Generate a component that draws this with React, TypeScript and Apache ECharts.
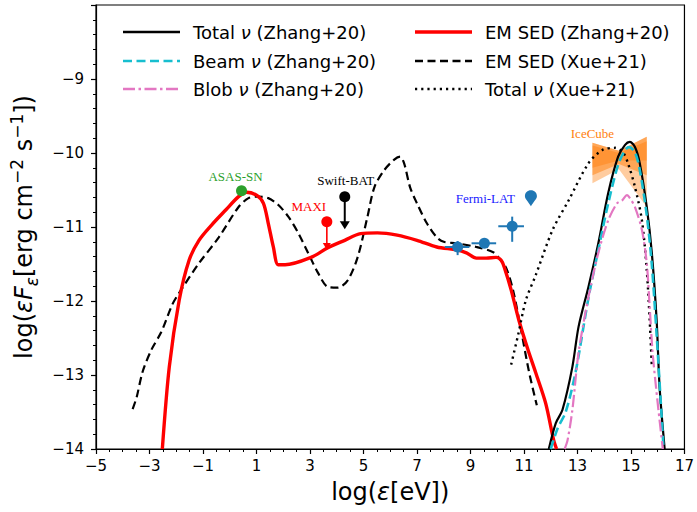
import { useEffect, useRef } from "react";
import * as echarts from "echarts";

// ---- data (log eps [eV], log eps F_eps [erg cm^-2 s^-1]) ----
const emSedZhang: number[][] = [
  [-2.52, -14.0], [-2.26, -12.89], [-1.89, -11.99], [-1.52, -11.45], [-1.15, -11.18],
  [-0.67, -10.97], [-0.15, -10.77], [0.33, -10.59], [0.63, -10.53], [1.0, -10.57],
  [1.26, -10.68], [1.44, -10.95], [1.63, -11.27], [1.81, -11.51], [2.07, -11.51],
  [3.04, -11.41], [3.67, -11.28], [4.3, -11.18], [4.89, -11.09], [5.52, -11.08],
  [6.26, -11.11], [7.0, -11.18], [7.74, -11.27], [8.48, -11.31], [8.85, -11.35],
  [9.22, -11.42], [9.59, -11.42], [9.96, -11.41], [10.15, -11.45], [10.26, -11.54],
  [10.52, -11.85], [10.81, -12.26], [11.15, -12.66], [11.44, -12.97], [11.81, -13.38],
  [12.11, -13.88], [12.22, -14.0],
];

const emSedXue: number[][] = [
  [-3.63, -13.46], [-3.48, -13.3], [-3.26, -12.96], [-2.93, -12.66], [-2.56, -12.42],
  [-2.15, -12.05], [-1.89, -11.89], [-1.15, -11.49], [-0.41, -11.14], [0.33, -10.73],
  [0.7, -10.61], [1.07, -10.59], [1.44, -10.61], [1.81, -10.7], [2.19, -10.86],
  [2.56, -11.08], [2.93, -11.35], [3.3, -11.62], [3.67, -11.81], [4.04, -11.82],
  [4.41, -11.72], [4.78, -11.41], [5.15, -10.86], [5.41, -10.46], [5.78, -10.23],
  [6.15, -10.09], [6.37, -10.05], [6.52, -10.14], [6.74, -10.46], [7.0, -10.68],
  [7.37, -10.95], [7.74, -11.14], [8.0, -11.2], [8.48, -11.22], [9.22, -11.27],
  [9.85, -11.34], [10.07, -11.42], [10.33, -11.55], [10.59, -11.85], [10.89, -12.39],
  [11.19, -12.96], [11.48, -13.41],
];

const totalNuXue: number[][] = [
  [10.52, -12.86], [10.78, -12.46], [11.07, -11.99], [11.44, -11.65], [12.07, -11.04],
  [12.67, -10.64], [13.41, -10.14], [13.93, -9.96], [14.41, -9.93], [14.7, -9.99],
  [14.89, -10.14], [15.15, -10.46], [15.41, -10.91], [15.59, -11.58], [15.7, -12.26],
  [15.78, -12.89],
];

const totalNuZhang: number[][] = [
  [11.93, -14.0], [12.19, -13.65], [12.44, -13.47], [12.81, -12.89], [13.04, -12.35],
  [13.41, -11.81], [13.78, -11.22], [14.15, -10.54], [14.52, -10.05], [14.78, -9.89],
  [14.96, -9.85], [15.15, -9.92], [15.33, -10.14], [15.59, -10.73], [15.78, -11.35],
  [15.96, -12.26], [16.07, -13.16], [16.26, -14.0],
];

const beamNuZhang: number[][] = [
  [12.0, -14.0], [12.26, -13.72], [12.56, -13.5], [12.93, -12.96], [13.41, -11.96],
  [13.78, -11.31], [14.15, -10.68], [14.52, -10.16], [14.78, -9.96], [14.93, -9.92],
  [15.15, -9.99], [15.33, -10.23], [15.59, -10.84], [15.78, -11.51], [15.96, -12.46],
  [16.11, -13.34], [16.22, -14.0],
];

const blobNuZhang: number[][] = [
  [12.52, -14.0], [12.63, -13.88], [12.81, -13.47], [13.04, -12.7], [13.41, -11.95],
  [13.78, -11.35], [14.15, -10.91], [14.48, -10.68], [14.67, -10.64], [14.85, -10.57],
  [14.96, -10.61], [15.15, -10.73], [15.41, -11.04], [15.59, -11.49], [15.7, -12.08],
  [15.81, -12.7], [16.0, -13.38], [16.19, -14.0],
];

// observations
const asasSn: number[][] = [[0.44, -10.51]];
const maxiUL: number[][] = [[3.63, -10.93, -11.31]]; // x, y, arrow tip
const swiftUL: number[][] = [[4.3, -10.59, -11.03]];
// x, y, xLow, xHigh, yLow, yHigh
const fermiLat: number[][] = [
  [8.52, -11.27, 8.04, 8.96, -11.38, -11.19],
  [9.52, -11.22, 9.04, 9.96, -11.28, -11.15],
  [10.56, -10.99, 10.04, 11.0, -11.2, -10.86],
];
const fermiUL: number[][] = [[11.26, -10.61]];

// IceCube bow-tie: envelope (upper / lower edges) and inner denser bands
const iceUpper: number[][] = [[13.56, -9.86], [14.55, -9.97], [15.59, -9.78]];
const iceLower: number[][] = [[13.56, -10.41], [14.55, -10.22], [15.59, -10.73]];
const iceBandLower: number[][] = [[13.56, -10.3], [14.55, -10.15], [15.59, -10.3]];
const iceCoreUpper: number[][] = [[13.56, -9.9], [14.55, -10.0], [15.59, -9.84]];
const iceCoreLower: number[][] = [[13.56, -10.2], [14.55, -10.1], [15.59, -10.1]];

const FONT = "DejaVu Sans";
const SERIF = "Liberation Serif";
const DROP = "path://M6 0 C9.5 0 12 2.5 12 6 C12 8.5 9 11 6 16 C3 11 0 8.5 0 6 C0 2.5 2.5 0 6 0 Z";

const fmt = (v: number) => (v < 0 ? "\u2212" + Math.abs(v) : String(v));

export default function App() {
  const ref = useRef<HTMLDivElement>(null);

  useEffect(() => {
    if (!ref.current) return;
    const chart = echarts.init(ref.current, null, { renderer: "svg" });

    const lineSeries = (name: string, data: number[][], color: string, width: number, type: any) => ({
      name,
      type: "line",
      data,
      symbol: "none",
      smooth: 0.3,
      lineStyle: { color, width, type },
      z: 3,
    });

    const bandPoly = (api: any, up: number[][], lo: number[][]) => {
      const pts = up.map((p) => api.coord(p));
      const lw = lo.slice().reverse().map((p) => api.coord(p));
      return pts.concat(lw);
    };

    const arrowRender = (color: string, lw: number, hw: number, hh: number) => (params: any, api: any) => {
      const p = api.coord([api.value(0), api.value(1)]);
      const t = api.coord([api.value(0), api.value(2)]);
      return {
        type: "group",
        children: [
          { type: "line", shape: { x1: p[0], y1: p[1], x2: t[0], y2: t[1] - hh + 1 }, style: { stroke: color, lineWidth: lw } },
          {
            type: "polygon",
            shape: { points: [[t[0] - hw / 2, t[1] - hh], [t[0] + hw / 2, t[1] - hh], [t[0], t[1]]] },
            style: { fill: color },
          },
        ],
      };
    };

    const legendItems = [
      { x: 123, y: 32, color: "#000", w: 2.4, dash: null, label: "Total {i|ν} (Zhang+20)" },
      { x: 123, y: 61, color: "#17becf", w: 2.6, dash: [9, 4.5], label: "Beam {i|ν} (Zhang+20)" },
      { x: 123, y: 89, color: "#e377c2", w: 2.4, dash: [12, 3.5, 2.5, 3.5], label: "Blob {i|ν} (Zhang+20)" },
      { x: 415, y: 32, color: "#ff0000", w: 3.4, dash: null, label: "EM SED (Zhang+20)" },
      { x: 415, y: 61, color: "#000", w: 2.4, dash: [8, 4.5], label: "EM SED (Xue+21)" },
      { x: 415, y: 89, color: "#000", w: 2.4, dash: [2.2, 4], label: "Total {i|ν} (Xue+21)" },
    ];
    const graphic: any[] = [];
    legendItems.forEach((it) => {
      graphic.push({
        type: "line",
        shape: { x1: it.x, y1: it.y, x2: it.x + 57, y2: it.y },
        style: { stroke: it.color, lineWidth: it.w, lineDash: it.dash || undefined },
        z: 10,
      });
      graphic.push({
        type: "text",
        x: it.x + 70,
        y: it.y,
        style: {
          text: it.label,
          fontSize: 18,
          fontFamily: FONT,
          fill: "#000",
          verticalAlign: "middle",
          rich: { i: { fontStyle: "italic", fontSize: 18, fontFamily: FONT, fill: "#000" } },
        },
        z: 10,
      });
    });

    const pointSeries = (name: string, data: number[][], color: string, label: any, symbol = "circle", size: any = 11) => ({
      name,
      type: "scatter",
      data,
      symbol,
      symbolSize: size,
      itemStyle: { color, opacity: 1 },
      z: 5,
      label: label ? { show: true, fontSize: 13, fontFamily: SERIF, opacity: 1, ...label } : { show: false },
      emphasis: { disabled: true },
    });

    const option: any = {
      animation: false,
      grid: { left: 96, right: 7, top: 5, bottom: 63, show: true, borderColor: "#000", borderWidth: 1.2 },
      xAxis: {
        type: "value",
        min: -5,
        max: 17,
        interval: 2,
        axisLine: { show: true, onZero: false, lineStyle: { color: "#000", width: 1.2 } },
        axisTick: { show: true, length: 5, lineStyle: { color: "#000", width: 1.2 } },
        minorTick: { show: true, splitNumber: 4, length: 3, lineStyle: { color: "#000", width: 1 } },
        splitLine: { show: false },
        axisLabel: { fontSize: 15, fontFamily: FONT, color: "#000", margin: 9, formatter: fmt, showMinLabel: true, showMaxLabel: true },
        name: "log({i|ε}[eV])",
        nameLocation: "middle",
        nameGap: 31,
        nameTextStyle: {
          fontSize: 24,
          fontFamily: FONT,
          color: "#000",
          rich: { i: { fontStyle: "italic", fontSize: 24, fontFamily: FONT, color: "#000" } },
        },
      },
      yAxis: {
        type: "value",
        min: -14,
        max: -8,
        interval: 1,
        axisLine: { show: true, onZero: false, lineStyle: { color: "#000", width: 1.2 } },
        axisTick: { show: true, length: 5, lineStyle: { color: "#000", width: 1.2 } },
        minorTick: { show: true, splitNumber: 5, length: 3, lineStyle: { color: "#000", width: 1 } },
        splitLine: { show: false },
        axisLabel: {
          fontSize: 15,
          fontFamily: FONT,
          color: "#000",
          margin: 12,
          formatter: (v: number) => (v >= -8 ? "" : fmt(v)),
        },
        name: "log({i|εF}{sub|ε}[erg cm{sup|−2} s{sup|−1}])",
        nameLocation: "middle",
        nameGap: 56,
        nameRotate: 90,
        nameTextStyle: {
          fontSize: 24,
          fontFamily: FONT,
          color: "#000",
          lineHeight: 32,
          rich: {
            i: { fontStyle: "italic", fontSize: 24, fontFamily: FONT, color: "#000", lineHeight: 32 },
            sub: { fontStyle: "italic", fontSize: 17, fontFamily: FONT, color: "#000", lineHeight: 17, verticalAlign: "bottom" },
            sup: { fontSize: 17, fontFamily: FONT, color: "#000", lineHeight: 17, verticalAlign: "top" },
          },
        },
      },
      graphic,
      series: [
        {
          name: "IceCube",
          type: "custom",
          data: [[iceUpper[0][0], iceUpper[0][1]]],
          z: 1,
          renderItem: (params: any, api: any) => {
            const tl = api.coord(iceUpper[0]);
            return {
              type: "group",
              children: [
                { type: "polygon", shape: { points: bandPoly(api, iceUpper, iceLower) }, style: { fill: "rgba(255,127,14,0.4)" } },
                { type: "polygon", shape: { points: bandPoly(api, iceUpper, iceBandLower) }, style: { fill: "rgba(255,127,14,0.5)" } },
                { type: "polygon", shape: { points: bandPoly(api, iceCoreUpper, iceCoreLower) }, style: { fill: "rgba(255,127,14,0.45)" } },
                {
                  type: "text",
                  x: tl[0],
                  y: tl[1] - 3,
                  style: { text: "IceCube", fontSize: 13, fontFamily: SERIF, fill: "#ff7f0e", align: "center", verticalAlign: "bottom" },
                },
              ],
            };
          },
        },
        lineSeries("EM SED (Xue+21)", emSedXue, "#000", 2.2, [8, 4.5]),
        lineSeries("EM SED (Zhang+20)", emSedZhang, "#ff0000", 3.4, "solid"),
        lineSeries("Total ν (Xue+21)", totalNuXue, "#000", 2.4, [2.2, 4]),
        lineSeries("Total ν (Zhang+20)", totalNuZhang, "#000", 2.2, "solid"),
        lineSeries("Beam ν (Zhang+20)", beamNuZhang, "#17becf", 2.6, [9, 4.5]),
        lineSeries("Blob ν (Zhang+20)", blobNuZhang, "#e377c2", 2.2, [12, 3.5, 2.5, 3.5]),
        {
          name: "MAXI arrow",
          type: "custom",
          data: maxiUL,
          z: 4,
          renderItem: arrowRender("#ff0000", 1.6, 8, 7),
        },
        {
          name: "Swift-BAT arrow",
          type: "custom",
          data: swiftUL,
          z: 4,
          renderItem: arrowRender("#000", 2, 10, 8),
        },
        {
          name: "Fermi-LAT errors",
          type: "custom",
          data: fermiLat,
          z: 4,
          renderItem: (params: any, api: any) => {
            const y = api.value(1);
            const x = api.value(0);
            const a = api.coord([api.value(2), y]);
            const b = api.coord([api.value(3), y]);
            const c = api.coord([x, api.value(4)]);
            const d = api.coord([x, api.value(5)]);
            return {
              type: "group",
              children: [
                { type: "line", shape: { x1: a[0], y1: a[1], x2: b[0], y2: b[1] }, style: { stroke: "#1f77b4", lineWidth: 2 } },
                { type: "line", shape: { x1: c[0], y1: c[1], x2: d[0], y2: d[1] }, style: { stroke: "#1f77b4", lineWidth: 2 } },
              ],
            };
          },
        },
        pointSeries("ASAS-SN", asasSn, "#2ca02c", { position: "top", distance: 2, offset: [-6, 0], formatter: "ASAS-SN", color: "#2ca02c" }),
        pointSeries("MAXI", maxiUL.map((d) => [d[0], d[1]]), "#ff0000", { position: "top", distance: 3, offset: [-18, 0], formatter: "MAXI", color: "#ff0000" }),
        pointSeries("Swift-BAT", swiftUL.map((d) => [d[0], d[1]]), "#000", { position: "top", distance: 4, offset: [1, 0], formatter: "Swift-BAT", color: "#000" }),
        pointSeries("Fermi-LAT", fermiLat.map((d) => [d[0], d[1]]), "#1f77b4", null),
        pointSeries("Fermi-LAT UL", fermiUL, "#1f77b4", { position: "left", distance: 10, formatter: "Fermi-LAT", color: "#1a1aff" }, DROP, [12, 16]),
      ],
    };

    chart.setOption(option);
    return () => chart.dispose();
  }, []);

  return <div ref={ref} style={{ position: "absolute", left: 0, top: 0, width: 697, height: 512 }} />;
}
